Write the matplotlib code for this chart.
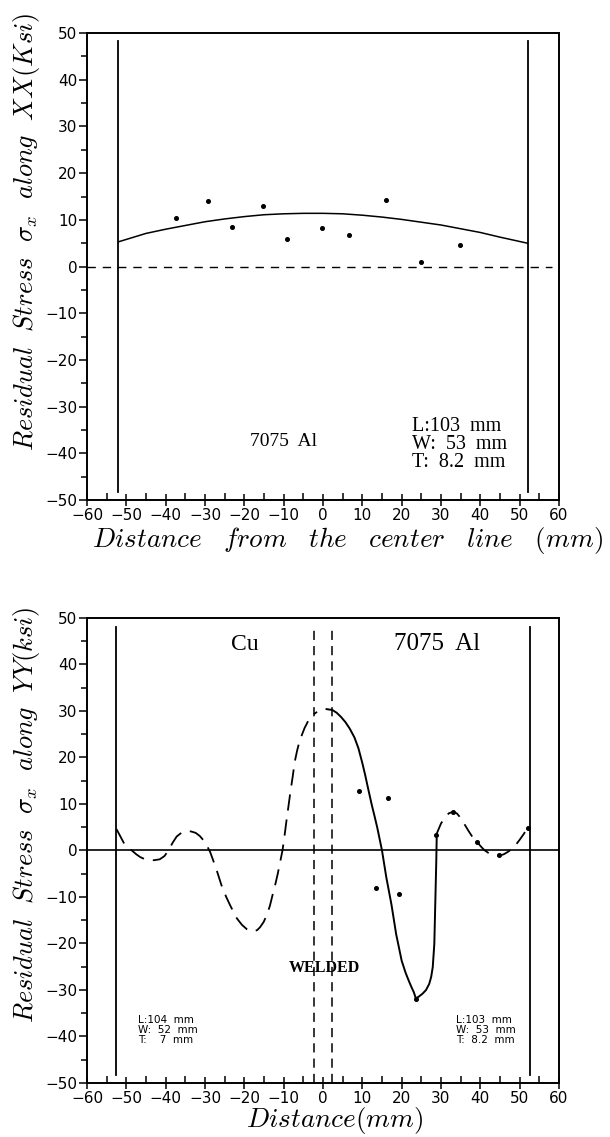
import matplotlib
matplotlib.use("Agg")
import matplotlib.pyplot as plt
from matplotlib.ticker import MultipleLocator

plt.rcParams['mathtext.fontset'] = 'cm'
plt.rcParams['font.family'] = 'DejaVu Sans'

# ---- donnees : contrainte le long de XX (7075 Al) ----
xx_courbe_x = [-52, -45, -40, -35, -30, -25, -20, -15, -10, -5, 0, 5, 10, 15, 20, 25, 30, 35, 40, 45, 52]
xx_courbe_y = [5.3, 7.1, 8.0, 8.8, 9.6, 10.2, 10.7, 11.1, 11.3, 11.4, 11.4, 11.3, 11.0, 10.6, 10.1, 9.5, 8.9, 8.1, 7.3, 6.3, 5.0]
xx_points_x = [-37.3, -29.2, -23.1, -15.2, -9.2, -0.3, 6.7, 16.0, 24.8, 34.9]
xx_points_y = [10.4, 14.1, 8.4, 12.9, 6.0, 8.3, 6.8, 14.2, 1.0, 4.7]
xx_bords = [-52, 52]

# ---- donnees : contrainte le long de YY (Cu / 7075 Al soudes) ----
cu_x = [-52.5, -51.5, -50.5, -49.5, -48.6, -47.5, -46.5, -45.5, -44.4, -43.0, -41.5, -40.3, -39.3,
        -38.2, -37.2, -36.0, -34.8, -33.6, -32.4, -31.3, -30.0, -28.7, -27.2, -25.8, -24.6,
        -23.6, -22.7, -21.9, -20.6, -19.4, -18.4, -17.5, -16.7, -16.0, -15.1, -14.3, -13.5,
        -12.8, -12.1, -11.5, -10.9, -10.3, -9.8, -9.3, -8.8, -8.3, -7.7, -7.2, -6.6, -6.0,
        -5.3, -4.7, -3.8, -3.0, -2.2, -1.5]
cu_y = [4.6, 3.0, 1.4, 0.6, 0.0, -0.8, -1.4, -1.8, -2.0, -2.1, -1.9, -1.2, 0.0,
        1.7, 3.0, 3.8, 4.2, 4.1, 3.8, 3.1, 1.8, -0.3, -3.8, -7.5, -10.0,
        -11.8, -13.3, -14.6, -16.0, -16.9, -17.3, -17.4, -17.1, -16.5, -15.4, -13.9, -11.9,
        -9.5, -7.2, -5.0, -2.5, 0.0, 3.0, 6.3, 9.4, 12.5, 15.9, 19.0, 21.4, 23.4,
        25.0, 26.3, 27.8, 28.8, 29.4, 29.8]
al_x = [0.9, 2.4, 3.5, 4.6, 5.7, 6.8, 8.0, 9.0, 10.0, 10.7, 11.5, 12.4, 13.1, 13.8, 15.0, 16.1,
        17.4, 18.6, 20.0, 21.0, 21.8, 22.5, 23.1, 23.6, 24.4, 25.3, 26.2, 27.0, 27.5, 27.9,
        28.3, 28.5, 28.8, 28.9]
al_y = [30.4, 30.2, 29.6, 28.7, 27.6, 26.2, 24.3, 22.0, 18.8, 16.3, 13.2, 9.8, 7.4, 4.9, 0.0, -5.8,
        -11.6, -18.0, -23.7, -26.3, -28.0, -29.4, -30.5, -31.8, -31.4, -30.8, -30.0, -28.7, -27.2,
        -25.1, -20.1, -13.0, -2.3, 2.5]
al2_x = [28.8, 30.0, 31.0, 32.0, 33.0, 34.0, 35.0, 36.0, 37.0, 38.0, 39.2, 40.2, 41.0, 42.0,
         43.0, 44.0, 45.0, 46.0, 47.0, 48.0, 49.0, 50.0, 51.0, 52.0]
al2_y = [3.4, 5.8, 7.1, 8.0, 8.3, 8.0, 7.0, 5.6, 4.2, 2.9, 1.8, 0.8, 0.1, -0.5,
         -0.9, -1.1, -1.1, -0.8, -0.3, 0.3, 1.2, 2.3, 3.5, 4.8]
yy_points_x = [9.1, 16.4, 13.5, 19.4, 23.6, 28.8, 33.0, 39.2, 44.8, 52.0]
yy_points_y = [12.8, 11.3, -8.1, -9.4, -32.0, 3.4, 8.3, 1.8, -0.9, 4.8]
yy_bords = [-52.5, 52.6]
soudure = [-2.4, 2.4]

fig = plt.figure(figsize=(6.1, 11.37), dpi=100)
ax1 = fig.add_axes([0.1426, 0.5602, 0.7738, 0.4107])
ax2 = fig.add_axes([0.1426, 0.0475, 0.7738, 0.4090])


# Mise en forme commune des deux graphiques
def preparer_axes(ax):
    ax.set_xlim(-60, 60)
    ax.set_ylim(-50, 50)
    ax.xaxis.set_major_locator(MultipleLocator(10))
    ax.xaxis.set_minor_locator(MultipleLocator(5))
    ax.yaxis.set_major_locator(MultipleLocator(10))
    ax.yaxis.set_minor_locator(MultipleLocator(5))
    ax.tick_params(axis='x', which='major', direction='inout', length=9, width=1.1, labelsize=11, pad=1)
    ax.tick_params(axis='x', which='minor', direction='in', length=5, width=1.1)
    ax.tick_params(axis='y', which='major', direction='out', length=6, width=1.1, labelsize=11, pad=1)
    ax.tick_params(axis='y', which='minor', direction='out', length=4, width=1.1)
    for s in ax.spines.values():
        s.set_linewidth(1.4)


preparer_axes(ax1)
preparer_axes(ax2)

# ---- graphique du haut ----
ax1.axhline(0, xmin=0, xmax=0.985, color='black', lw=1.0, linestyle=(0, (6, 5)))
for b in xx_bords:
    ax1.plot([b, b], [-48.3, 48.3], color='black', lw=1.3)
ax1.plot(xx_courbe_x, xx_courbe_y, color='black', lw=1.1)
ax1.plot(xx_points_x, xx_points_y, 'o', color='black', markersize=2.6)
ax1.text(-10, -37.5, '7075  Al', family='Liberation Serif', fontsize=14, ha='center', va='center')
ax1.text(22.6, -38.1, 'L:103  mm\nW:  53  mm\nT:  8.2  mm', family='Liberation Serif', fontsize=14.5,
         ha='left', va='center', linespacing=0.95)

# ---- graphique du bas ----
ax2.axhline(0, color='black', lw=1.2)
for b in yy_bords:
    ax2.plot([b, b], [-48.3, 48.0], color='black', lw=1.3)
for s in soudure:
    ax2.plot([s, s], [-50, 48.0], color='black', lw=1.1, linestyle=(0, (6, 4)))
ax2.plot(cu_x, cu_y, color='black', lw=1.3, linestyle=(0, (9, 5)))
ax2.plot(al_x, al_y, color='black', lw=1.4)
ax2.plot(al2_x, al2_y, color='black', lw=1.3, linestyle=(0, (8, 5)))
ax2.plot(yy_points_x, yy_points_y, 'o', color='black', markersize=2.6)
ax2.text(-20, 44.4, 'Cu', family='Liberation Serif', fontsize=17, ha='center', va='center')
ax2.text(29, 44.4, '7075  Al', family='Liberation Serif', fontsize=18, ha='center', va='center')
ax2.text(0.3, -25.3, 'WELDED', family='Liberation Serif', fontweight='bold', fontsize=11.5,
         ha='center', va='center')
ax2.text(-47, -38.6, 'L:104  mm\nW:  52  mm\nT:    7  mm', fontsize=7.5, ha='left', va='center',
         linespacing=1.05)
ax2.text(33.8, -38.6, 'L:103  mm\nW:  53  mm\nT:  8.2  mm', fontsize=7.5, ha='left', va='center',
         linespacing=1.05)

# ---- libelles des axes ----
fig.text(0.044, 0.796, r'$Residual\ \ Stress\ \ \sigma_x\ \ along\ \ XX(Ksi)$', rotation=90,
         fontsize=19, ha='center', va='center')
fig.text(0.570, 1 - 540 / 1137, r'$Distance\ \ \;from\ \ \;the\ \ \;center\ \ \;line\ \ \;(mm)$',
         fontsize=19.5, ha='center', va='center')
fig.text(0.044, 0.2836, r'$Residual\ \ Stress\ \ \sigma_x\ \ along\ \ YY(ksi)$', rotation=90,
         fontsize=19, ha='center', va='center')
fig.text(0.548, 1 - 1120 / 1137, r'$Distance(mm)$', fontsize=19.5, ha='center', va='center')

fig.savefig('out.png', dpi=100)
